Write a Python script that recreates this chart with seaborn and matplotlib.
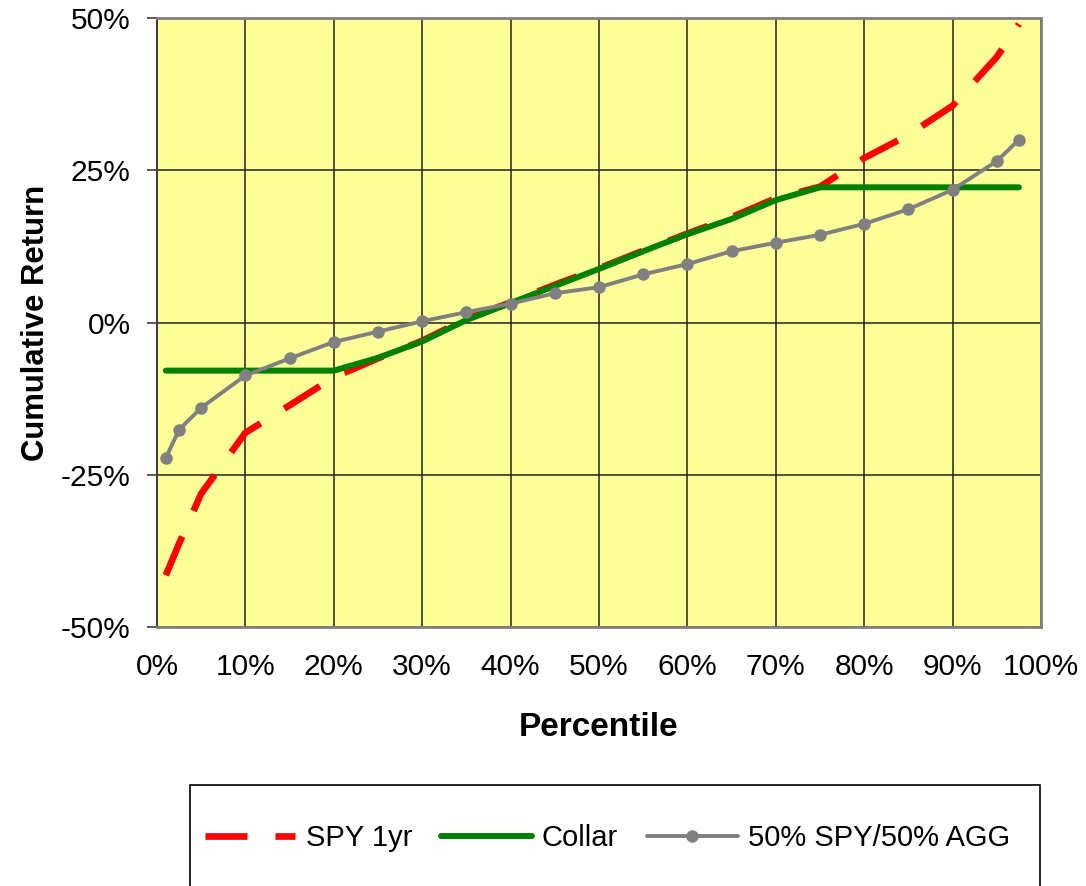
import numpy as np
import pandas as pd
import matplotlib.pyplot as plt
from matplotlib.patches import Rectangle
from matplotlib.ticker import FuncFormatter
import seaborn as sns

# percentile points (x) and cumulative return in % (y)
pct = [1, 2.5, 5, 10, 15, 20, 25, 30, 35, 40, 45, 50, 55, 60, 65, 70, 75, 80, 85, 90, 95, 97.5]
spy = [-41.5, -36.3, -28.1, -18.1, -13.6, -9.0, -5.9, -3.0, 0.6, 3.3, 6.2, 8.9, 11.8, 14.6,
       17.3, 20.4, 22.3, 27.0, 30.8, 35.6, 43.6, 49.0]
collar = [-7.9, -7.9, -7.9, -7.9, -7.9, -7.9, -5.8, -3.1, 0.4, 3.2, 6.0, 8.8, 11.7, 14.5,
          17.0, 20.1, 22.2, 22.2, 22.2, 22.2, 22.2, 22.2]
mix = [-22.2, -17.6, -14.0, -8.7, -5.9, -3.2, -1.5, 0.2, 1.7, 3.1, 4.8, 5.8, 7.9, 9.6,
       11.7, 13.1, 14.4, 16.2, 18.6, 21.8, 26.5, 30.0]
labels = ['SPY 1yr', 'Collar', '50% SPY/50% AGG']

sns.set_theme(style='white')
plt.rcParams['font.family'] = ['Liberation Sans', 'DejaVu Sans']
plt.rcParams['text.color'] = 'black'

W, H = 1086, 886
fig = plt.figure(figsize=(W / 100, H / 100), dpi=100)
ax = fig.add_axes([157 / W, 1 - 627 / H, 884 / W, 609 / H])
ax.set_facecolor('#FFFF99')

sns.lineplot(x=pct, y=spy, ax=ax, color='#FF0000', linewidth=4.8,
             linestyle=(0, (6.3, 4.2)), label=labels[0])
sns.lineplot(x=pct, y=collar, ax=ax, color='#008000', linewidth=4.3,
             label=labels[1])
sns.lineplot(x=pct, y=mix, ax=ax, color='#808080', linewidth=2.8, marker='o',
             markersize=9, markeredgewidth=0, label=labels[2])

ax.set_xlim(0, 100)
ax.set_ylim(-50, 50)
ax.set_xticks(np.arange(0, 101, 10))
ax.set_yticks([-50, -25, 0, 25, 50])
pct_fmt = FuncFormatter(lambda v, p: f'{v:.0f}%')
ax.xaxis.set_major_formatter(pct_fmt)
ax.yaxis.set_major_formatter(pct_fmt)

ax.grid(True, color='#222222', linewidth=1.1)
ax.set_axisbelow(True)
ax.tick_params(axis='x', length=0, pad=18.5, labelsize=21.5, labelcolor='black')
ax.tick_params(axis='y', length=7, width=1.2, color='#404040', pad=12, labelsize=21.5,
               labelcolor='black', left=True, direction='out')
for side in ['top', 'right', 'bottom']:
    ax.spines[side].set_color('#808080')
    ax.spines[side].set_linewidth(2)
ax.spines['left'].set_color('#404040')
ax.spines['left'].set_linewidth(1.5)

ax.set_xlabel('Percentile', fontsize=24, fontweight='bold', color='black')
ax.set_ylabel('Cumulative Return', fontsize=22.4, fontweight='bold', color='black')
ax.xaxis.set_label_coords(0.5, -0.14)
ax.yaxis.set_label_coords(-0.12, 0.5)

# legend box (runs off the bottom edge like the original)
fig.patches.append(Rectangle((190 / W, 1 - 895 / H), 850 / W, 110 / H,
                             transform=fig.transFigure, facecolor='white',
                             edgecolor='black', linewidth=1.2, zorder=0))

handles, _ = ax.get_legend_handles_labels()
ax.get_legend().remove()
fig.legend(handles, labels, loc='center left', ncol=3,
           bbox_to_anchor=(205 / W, 1 - 838 / H), fontsize=21, frameon=False,
           borderpad=0, handlelength=3.1, handletextpad=0.35,
           columnspacing=1.0, borderaxespad=0)

fig.savefig('out.png', dpi=100, facecolor='white')
